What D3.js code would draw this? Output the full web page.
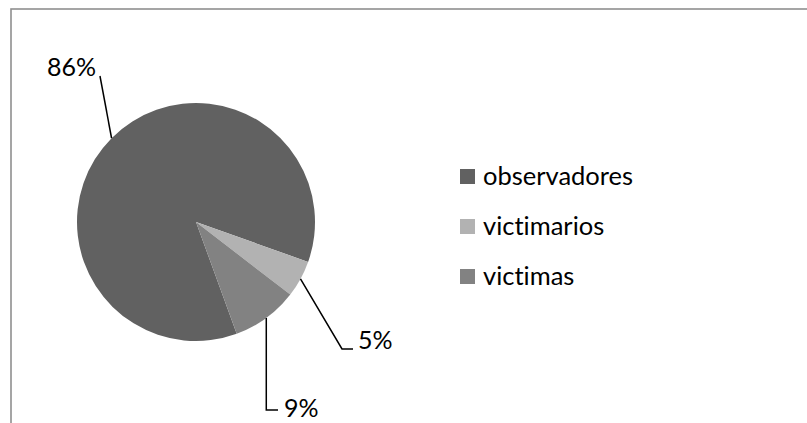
<!DOCTYPE html>
<html>
<head>
<meta charset="utf-8">
<script src="https://cdn.jsdelivr.net/npm/d3@7/dist/d3.min.js"></script>
<style>
  html, body { margin: 0; padding: 0; background: #fff; }
  svg { display: block; }
  text { font-family: Lato, "Open Sans", sans-serif; fill: #000; font-variant-ligatures: none; font-feature-settings: "liga" 0; }
</style>
</head>
<body>
<svg id="chart" width="807" height="423"></svg>
<script>
// Share of students by role (percent)
const categories = ["observadores", "victimarios", "victimas"];
const values = [86, 5, 9];
const labels = ["86%", "5%", "9%"];
const colors = ["#616161", "#b2b2b2", "#828282"];

const svg = d3.select("#chart");
const W = 807, H = 423;

// chart area border (open on the right and bottom, like a cropped frame)
svg.append("rect")
  .attr("x", 11).attr("y", 9)
  .attr("width", W + 10).attr("height", H + 10)
  .attr("fill", "#fff")
  .attr("stroke", "#8f8f8f")
  .attr("stroke-width", 1.6);

const cx = 196, cy = 222, r = 119;
const startDeg = 160;

const pie = d3.pie()
  .value(d => d)
  .sort(null)
  .startAngle(startDeg * Math.PI / 180)
  .endAngle((startDeg + 360) * Math.PI / 180);

const arcs = pie(values);
const arc = d3.arc().innerRadius(0).outerRadius(r);

const g = svg.append("g").attr("transform", `translate(${cx},${cy})`);

g.selectAll("path.slice")
  .data(arcs)
  .join("path")
  .attr("class", "slice")
  .attr("d", arc)
  .attr("fill", (d, i) => colors[i]);

// data labels with leader lines; each label has its own placement
// (elbow point and label anchor relative to the pie centre)
const labelLayout = [
  { elbow: null,        anchor: [-96, -146], textAt: [-149, -146] },
  { elbow: [146, 127],  anchor: [157, 127],  textAt: [162, 127] },
  { elbow: [70, 188],   anchor: [82, 188],   textAt: [88, 195] }
];

arcs.forEach((d, i) => {
  const mid = (d.startAngle + d.endAngle) / 2;
  const p0 = [Math.sin(mid) * r, -Math.cos(mid) * r];
  const L = labelLayout[i];
  const pts = [p0];
  if (L.elbow) {
    pts.push([i === 2 ? p0[0] : L.elbow[0], L.elbow[1]]);
  }
  pts.push(L.anchor);
  g.append("path")
    .attr("d", d3.line()(pts))
    .attr("fill", "none")
    .attr("stroke", "#000")
    .attr("stroke-width", 1.5);
  g.append("text")
    .attr("x", L.textAt[0])
    .attr("y", L.textAt[1])
    .attr("font-size", 25)
    .text(labels[i]);
});

// legend
const legend = svg.append("g").attr("transform", "translate(460,169)");
const rows = legend.selectAll("g")
  .data(categories)
  .join("g")
  .attr("transform", (d, i) => `translate(0,${i * 50})`);
rows.append("rect")
  .attr("width", 15).attr("height", 15)
  .attr("fill", (d, i) => colors[i]);
rows.append("text")
  .attr("x", 23)
  .attr("y", 15.5)
  .attr("font-size", 25.5)
  .text(d => d);
</script>
</body>
</html>
